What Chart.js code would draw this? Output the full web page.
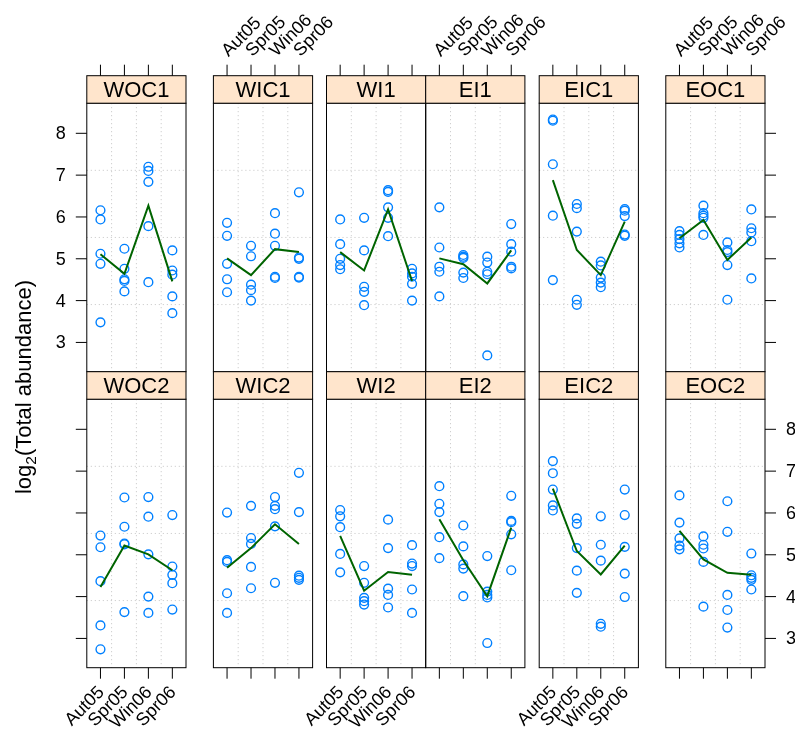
<!DOCTYPE html>
<html lang="en">
<head>
  <meta charset="UTF-8">
  <title>log2(Total abundance) by site and season</title>
  <script src="https://cdn.jsdelivr.net/npm/chart.js"></script>
  <style>
    body { margin: 0; background: #fff; }
    #wrap { position: relative; width: 795px; height: 734px; }
    #wrap canvas { position: absolute; left: 0; top: 0; }
  </style>
</head>
<body>
  <div id="wrap"></div>

  <script>
    // seasons on the x axis, sites as panels
    var seasons = ['Aut05', 'Spr05', 'Win06', 'Spr06'];
    var sites = ['WOC1', 'WIC1', 'WI1', 'EI1', 'EIC1', 'EOC1',
                 'WOC2', 'WIC2', 'WI2', 'EI2', 'EIC2', 'EOC2'];
    var yTicks = [3, 4, 5, 6, 7, 8];

    // log2 abundance per season (5 samples each), and the green line per season
    var woc1 = [[6.16, 5.94, 5.12, 4.88, 3.48], [5.24, 4.76, 4.51, 4.47, 4.22], [7.20, 7.10, 6.84, 5.78, 4.44], [5.20, 4.72, 4.62, 4.10, 3.70]];
    var woc1Line = [5.11, 4.64, 6.27, 4.46];
    var wic1 = [[5.86, 5.55, 4.88, 4.51, 4.20], [5.31, 5.06, 4.38, 4.25, 4.00], [6.09, 5.60, 5.31, 4.57, 4.54], [6.59, 5.03, 5.00, 4.57, 4.55]];
    var wic1Line = [5.01, 4.61, 5.23, 5.16];
    var wi1 = [[5.94, 5.35, 5.00, 4.85, 4.75], [5.98, 5.20, 4.33, 4.21, 3.89], [6.64, 6.60, 6.23, 5.98, 5.54], [4.76, 4.65, 4.57, 4.40, 4.00]];
    var wi1Line = [5.16, 4.72, 6.18, 4.47];
    var ei1 = [[6.23, 5.27, 4.81, 4.69, 4.10], [5.09, 5.05, 5.02, 4.67, 4.54], [5.05, 4.91, 4.69, 4.63, 2.69], [5.83, 5.35, 5.17, 4.81, 4.77]];
    var ei1Line = [5.01, 4.87, 4.41, 5.20];
    var eic1 = [[8.33, 8.30, 7.26, 6.03, 4.49], [6.31, 6.21, 5.65, 4.02, 3.90], [4.93, 4.84, 4.55, 4.43, 4.32], [6.19, 6.15, 6.02, 5.58, 5.55]];
    var eic1Line = [6.88, 5.21, 4.61, 5.89];
    var eoc1 = [[5.66, 5.57, 5.47, 5.37, 5.27], [6.27, 6.09, 6.03, 5.98, 5.57], [5.39, 5.21, 5.16, 4.85, 4.02], [6.18, 5.73, 5.63, 5.42, 4.53]];
    var eoc1Line = [5.49, 5.93, 4.97, 5.51];

    var woc2 = [[5.46, 5.18, 4.37, 3.31, 2.74], [6.37, 5.67, 5.27, 5.25, 3.63], [6.38, 5.91, 5.01, 4.00, 3.61], [5.95, 4.72, 4.52, 4.32, 3.69]];
    var woc2Line = [4.23, 5.22, 5.01, 4.63];
    var wic2 = [[6.01, 4.87, 4.83, 4.08, 3.61], [6.17, 5.40, 5.26, 4.71, 4.20], [6.38, 6.17, 6.09, 5.68, 4.33], [6.96, 6.02, 4.50, 4.45, 4.40]];
    var wic2Line = [4.69, 5.16, 5.73, 5.26];
    var wi2 = [[6.07, 5.92, 5.66, 5.02, 4.58], [4.73, 4.33, 3.97, 3.89, 3.81], [5.84, 5.16, 4.19, 4.04, 3.74], [5.23, 4.79, 4.73, 4.17, 3.61]];
    var wi2Line = [5.45, 4.14, 4.59, 4.52];
    var ei2 = [[6.64, 6.22, 6.02, 5.42, 4.92], [5.70, 5.20, 4.77, 4.67, 4.01], [4.97, 4.12, 4.04, 3.98, 2.89], [6.41, 5.81, 5.78, 5.49, 4.63]];
    var ei2Line = [5.85, 4.87, 4.01, 5.65];
    var eic2 = [[7.24, 6.95, 6.56, 6.18, 6.06], [5.87, 5.74, 5.16, 4.62, 4.09], [5.92, 5.24, 4.86, 3.35, 3.28], [6.56, 5.95, 5.19, 4.55, 3.99]];
    var eic2Line = [6.58, 5.09, 4.53, 5.22];
    var eoc2 = [[6.42, 5.77, 5.39, 5.22, 5.13], [5.44, 5.24, 5.15, 4.83, 3.76], [6.28, 5.55, 4.04, 3.68, 3.26], [5.03, 4.51, 4.45, 4.40, 4.17]];
    var eoc2Line = [5.57, 4.89, 4.57, 4.52];

    var panelPoints = [woc1, wic1, wi1, ei1, eic1, eoc1, woc2, wic2, wi2, ei2, eic2, eoc2];
    var panelLines = [woc1Line, wic1Line, wi1Line, ei1Line, eic1Line, eoc1Line,
                      woc2Line, wic2Line, wi2Line, ei2Line, eic2Line, eoc2Line];

    // page layout
    var W = 795, H = 734;
    var colLeft = [86.8, 213.4, 326.5, 425.7, 539.2, 665.8];
    var panelW = 99.2;
    var rowTop = [103.2, 399.2];   // top of plotting region (strip sits above)
    var panelH = 268.5;
    var stripH = 27.5;
    var tickLen = 11;
    var FONT = '"Liberation Sans", Arial, Helvetica, sans-serif';

    var lattice = {
      id: 'lattice',
      beforeDatasetsDraw: function (chart, args, o) {
        var a = chart.chartArea, ctx = chart.ctx;
        var xs = chart.scales.x, ys = chart.scales.y;
        ctx.save();
        ctx.strokeStyle = '#c4c4c4';
        ctx.lineWidth = 1;
        ctx.setLineDash([1, 3]);
        // panel.grid(h = 3, v = 3): lines splitting the limits in four
        for (var k = 1; k <= 3; k++) {
          var gx = xs.getPixelForValue(xs.min + (xs.max - xs.min) * k / 4);
          var gy = ys.getPixelForValue(ys.min + (ys.max - ys.min) * k / 4);
          ctx.beginPath(); ctx.moveTo(gx, a.top); ctx.lineTo(gx, a.bottom); ctx.stroke();
          ctx.beginPath(); ctx.moveTo(a.left, gy); ctx.lineTo(a.right, gy); ctx.stroke();
        }
        ctx.restore();
      },
      afterDatasetsDraw: function (chart, args, o) {
        var a = chart.chartArea, ctx = chart.ctx;
        var xs = chart.scales.x, ys = chart.scales.y;
        ctx.save();
        ctx.setLineDash([]);
        ctx.strokeStyle = '#000';
        ctx.lineWidth = 1;
        ctx.strokeRect(a.left, a.top, a.right - a.left, a.bottom - a.top);

        // strip
        ctx.fillStyle = '#ffe5cc';
        ctx.fillRect(a.left, a.top - stripH, a.right - a.left, stripH);
        ctx.strokeRect(a.left, a.top - stripH, a.right - a.left, stripH);
        ctx.fillStyle = '#000';
        ctx.font = '22px ' + FONT;
        ctx.textAlign = 'center';
        ctx.textBaseline = 'middle';
        ctx.fillText(o.name, (a.left + a.right) / 2, a.top - stripH / 2 + 1);

        ctx.font = '18px ' + FONT;
        var i, px, py;
        // x ticks: above the top row, below the bottom row
        for (i = 0; i < seasons.length; i++) {
          px = xs.getPixelForValue(i + 1);
          if (o.row === 0) {
            var y0 = a.top - stripH;
            ctx.beginPath(); ctx.moveTo(px, y0); ctx.lineTo(px, y0 - tickLen); ctx.stroke();
            if (o.col % 2 === 1) {
              ctx.save();
              ctx.translate(px - 2, y0 - tickLen - 11);
              ctx.rotate(-Math.PI / 4);
              ctx.textAlign = 'left';
              ctx.textBaseline = 'middle';
              ctx.fillText(seasons[i], 0, 0);
              ctx.restore();
            }
          } else {
            ctx.beginPath(); ctx.moveTo(px, a.bottom); ctx.lineTo(px, a.bottom + tickLen); ctx.stroke();
            if (o.col % 2 === 0) {
              ctx.save();
              ctx.translate(px + 1, a.bottom + tickLen + 11);
              ctx.rotate(-Math.PI / 4);
              ctx.textAlign = 'right';
              ctx.textBaseline = 'middle';
              ctx.fillText(seasons[i], 0, 0);
              ctx.restore();
            }
          }
        }
        // y ticks: left of first column, right of last column
        for (i = 0; i < yTicks.length; i++) {
          py = ys.getPixelForValue(yTicks[i]);
          if (o.col === 0) {
            ctx.beginPath(); ctx.moveTo(a.left, py); ctx.lineTo(a.left - tickLen, py); ctx.stroke();
            if (o.row === 0) {
              ctx.textAlign = 'right';
              ctx.textBaseline = 'middle';
              ctx.fillText(String(yTicks[i]), a.left - tickLen - 10, py + 1);
            }
          }
          if (o.col === 5) {
            ctx.beginPath(); ctx.moveTo(a.right, py); ctx.lineTo(a.right + tickLen, py); ctx.stroke();
            if (o.row === 1) {
              ctx.textAlign = 'left';
              ctx.textBaseline = 'middle';
              ctx.fillText(String(yTicks[i]), a.right + tickLen + 10, py + 1);
            }
          }
        }

        // y axis title, drawn once
        if (o.row === 0 && o.col === 0) {
          ctx.save();
          ctx.translate(31, 387);
          ctx.rotate(-Math.PI / 2);
          ctx.textBaseline = 'alphabetic';
          ctx.textAlign = 'left';
          var big = '22px ' + FONT, small = '15.5px ' + FONT;
          ctx.font = big;
          var w1 = ctx.measureText('log').width;
          var w3 = ctx.measureText('(Total abundance)').width;
          ctx.font = small;
          var w2 = ctx.measureText('2').width;
          var x0 = -(w1 + w2 + w3) / 2;
          ctx.font = big;
          ctx.fillText('log', x0, 0);
          ctx.font = small;
          ctx.fillText('2', x0 + w1, 5);
          ctx.font = big;
          ctx.fillText('(Total abundance)', x0 + w1 + w2, 0);
          ctx.restore();
        }
        ctx.restore();
      }
    };

    var wrap = document.getElementById('wrap');
    sites.forEach(function (site, p) {
      var row = p < 6 ? 0 : 1, col = p % 6;
      var left = colLeft[col], top = rowTop[row];

      var pts = [];
      panelPoints[p].forEach(function (vals, k) {
        vals.forEach(function (v) { pts.push({ x: k + 1, y: v }); });
      });
      var line = panelLines[p].map(function (v, k) { return { x: k + 1, y: v }; });

      var canvas = document.createElement('canvas');
      canvas.width = W;
      canvas.height = H;
      wrap.appendChild(canvas);

      new Chart(canvas.getContext('2d'), {
        type: 'scatter',
        data: {
          datasets: [{
            label: site + ' mean',
            data: line,
            showLine: true,
            borderColor: '#006400',
            borderWidth: 2,
            pointRadius: 0,
            order: 0
          }, {
            label: site,
            data: pts,
            pointStyle: 'circle',
            pointRadius: 4.4,
            pointBorderWidth: 1.4,
            pointBorderColor: '#0080ff',
            pointBackgroundColor: 'rgba(0,0,0,0)',
            order: 1
          }]
        },
        options: {
          responsive: false,
          animation: false,
          layout: {
            padding: { left: left, top: top, right: W - left - panelW, bottom: H - top - panelH }
          },
          scales: {
            x: { type: 'linear', min: 0.43, max: 4.57, display: false },
            y: { type: 'linear', min: 2.30, max: 8.72, display: false }
          },
          plugins: {
            legend: { display: false },
            tooltip: { enabled: false },
            lattice: { name: site, row: row, col: col }
          }
        },
        plugins: [lattice]
      });
    });
  </script>
</body>
</html>
